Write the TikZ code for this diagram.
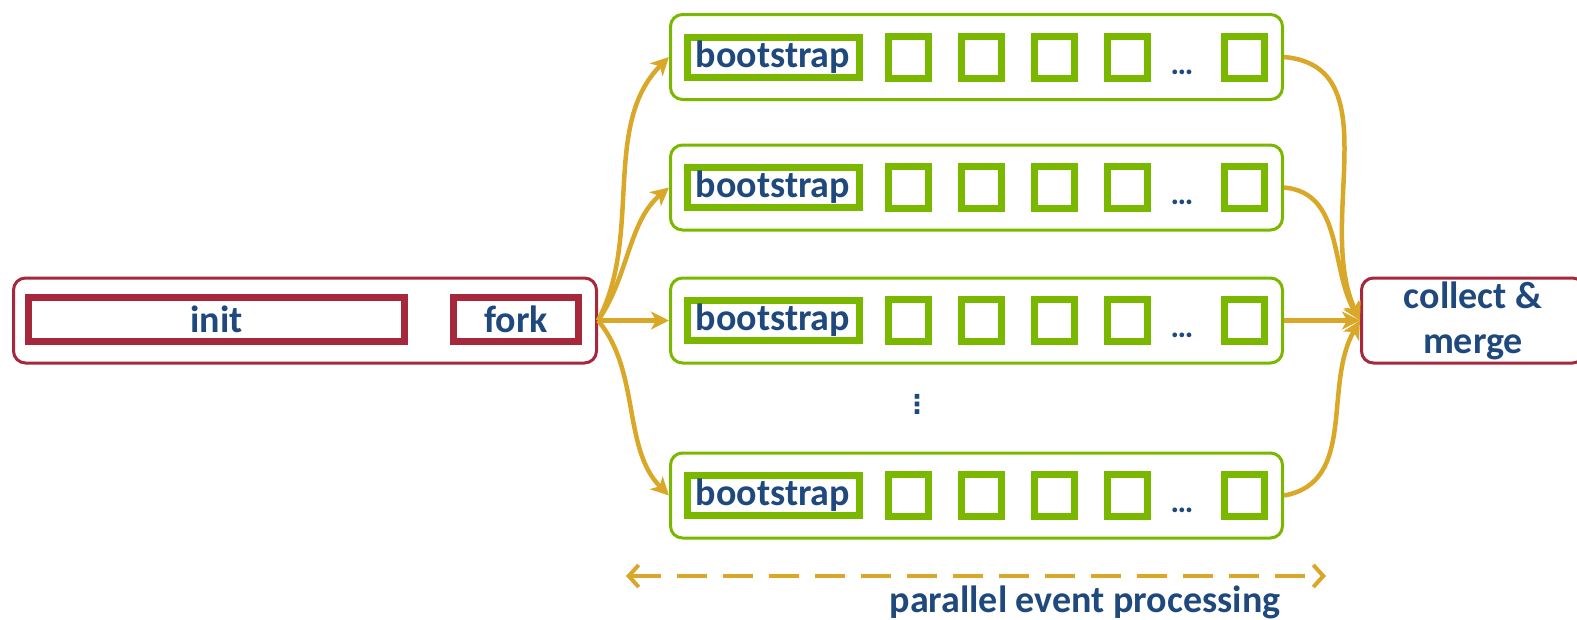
\documentclass[tikz,border=0pt]{standalone}
\usepackage{fontspec}
\setmainfont{Carlito}
\newfontfamily\symfont{DejaVu Sans}
\usetikzlibrary{arrows.meta}
\definecolor{boxred}{RGB}{165,40,60}
\definecolor{boxgreen}{RGB}{122,184,0}
\definecolor{arrgold}{RGB}{218,168,40}
\definecolor{txtblue}{RGB}{31,73,125}
\begin{document}
\begin{tikzpicture}[x=1pt,y=-1pt,
  lbl/.style={text=txtblue,font=\fontsize{38}{45}\selectfont\bfseries},
  outerred/.style={draw=boxred,line width=3pt,rounded corners=12pt,fill=white,inner sep=0pt,minimum height=85pt},
  innerred/.style={draw=boxred,line width=7pt,inner sep=0pt,minimum height=44pt,lbl},
  outergreen/.style={draw=boxgreen,line width=3pt,rounded corners=12pt,inner sep=0pt,minimum width=612pt,minimum height=85pt},
  bootbox/.style={draw=boxgreen,line width=7pt,inner sep=0pt,minimum width=172pt,minimum height=40pt,lbl},
  sqbox/.style={draw=boxgreen,line width=7pt,inner sep=0pt,minimum width=40pt,minimum height=42pt},
  flow/.style={draw=arrgold,line width=4.5pt,-{Stealth[length=18pt,width=18pt,inset=5pt]}},
  span/.style={draw=arrgold,line width=4pt,dash pattern=on 30pt off 16pt,{Straight Barb[length=10pt,width=22pt]}-{Straight Barb[length=10pt,width=22pt]}}
]
\useasboundingbox (0,0) rectangle (1577,619);

% left block
\node[outerred,minimum width=583pt] (main) at (305,320.5) {};
\node[innerred,minimum width=376pt] (init) at (216.5,319) {init};
\node[innerred,minimum width=125pt] (fork) at (516,319) {fork};

% collect & merge
\node[outerred,minimum width=223pt,lbl,align=center] (collect) at (1473,320.5) {collect \&\\merge};

% worker rows
\foreach \r/\y in {1/57,2/187.5,3/320.5,4/495.5}{
  \node[outergreen] (row\r) at (976.5,\y) {};
  \node[bootbox] (boot\r) at (773,\y) {bootstrap};
  \node[sqbox] (s\r a) at (908.5,\y) {};
  \node[sqbox] (s\r b) at (981.5,\y) {};
  \node[sqbox] (s\r c) at (1054.5,\y) {};
  \node[sqbox] (s\r d) at (1127.5,\y) {};
  \node[lbl,anchor=base,font=\fontsize{32}{36}\selectfont\bfseries] (dots\r) at (1182,\y+17) {…};
  \node[sqbox] (s\r e) at (1244.5,\y) {};
}
\node[text=txtblue,font=\symfont\fontsize{26}{30}\selectfont\bfseries] (vdots) at (917,404) {⋮};

% fork arrows
\draw[flow] (main.east) to[out=62,in=225,looseness=0.9] (row1.west);
\draw[flow] (main.east) to[out=55,in=220,looseness=0.9] (row2.west);
\draw[flow] (main.east) -- (row3.west);
\draw[flow] (main.east) to[out=-50,in=135,looseness=0.9] (row4.west);

% merge arrows
\draw[flow] (row1.east) to[out=-5,in=115,looseness=1.0] (collect.west);
\draw[flow] (row2.east) to[out=-5,in=120,looseness=1.0] (collect.west);
\draw[flow] (row3.east) -- (collect.west);
\draw[flow] (row4.east) to[out=10,in=240,looseness=1.0] (collect.west);

% parallel span
\coordinate (spanL) at (626,576);
\coordinate (spanR) at (1326,576);
\draw[span] (spanL) -- (spanR);
\node[lbl,anchor=base] (ptext) at (1085,612) {parallel event processing};
\end{tikzpicture}
\end{document}
